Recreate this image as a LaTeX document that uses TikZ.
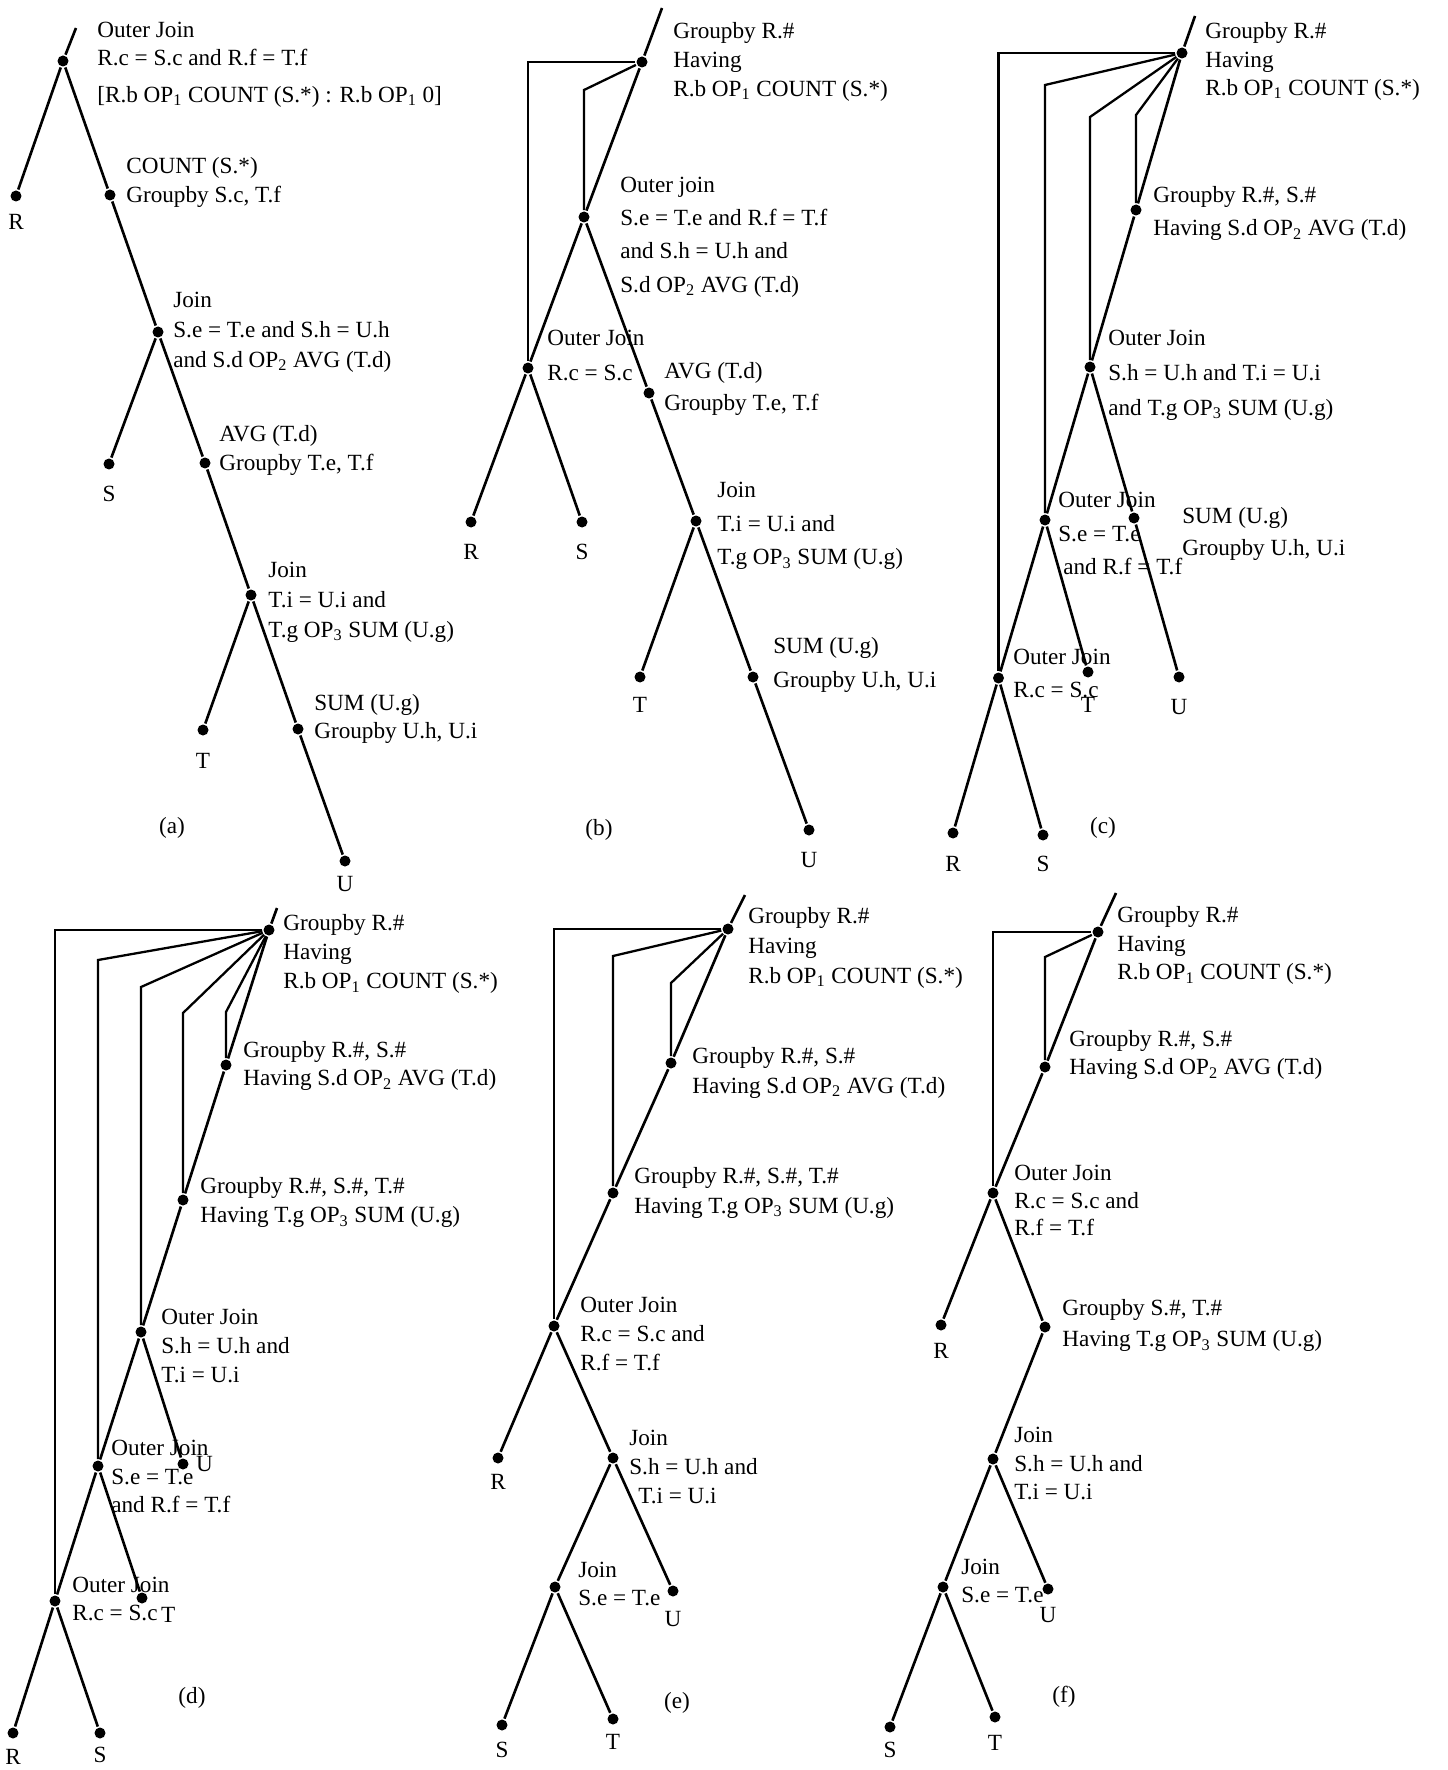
\documentclass[tikz,border=0pt]{standalone}
\usepackage{fontspec}
\setmainfont{Liberation Serif}
\usetikzlibrary{positioning}
\newcommand\condfont[1]{\fontsize{13.2}{#1}\selectfont}
\tikzset{
    joinplan/.style={x=0.02cm, y=-0.02cm, line width=1.5pt, font=\condfont{16pt}},
    opdot/.style={fill, circle, inner sep=0pt, minimum size=0.22cm},
    rel/.style={inner sep=0pt},
    % text beside an operator, the value is the line spacing
    cond/.style={align=left, anchor=west, inner sep=0pt, font=\condfont{#1}},
    cond/.default=17pt,
    link/.style={line width=1.3pt},
    panelname/.style={inner sep=0pt},
}

\begin{document}
\begin{tikzpicture}[joinplan]
    \useasboundingbox (0,0) rectangle (1447,1770);

    % (a) plain join tree
    \coordinate (atop) at (76,28);
    \node[opdot] (aroot) at (63,61)   {};
    \node[opdot] (acnt)  at (110,195) {};
    \node[opdot] (aj1)   at (158,332) {};
    \node[opdot] (aavg)  at (205,463) {};
    \node[opdot] (aj2)   at (251,595) {};
    \node[opdot] (asum)  at (298,729) {};
    \node[opdot] (aR)    at (16,196)  {};
    \node[opdot] (aS)    at (109,464) {};
    \node[opdot] (aT)    at (203,730) {};
    \node[opdot] (aU)    at (345,861) {};
    \node[rel, below=0.2cm of aR] (aRl) {R};
    \node[rel, below=0.28cm of aS] (aSl) {S};
    \node[rel, below=0.3cm of aT] (aTl) {T};
    \node[rel, below=0.14cm of aU] (aUl) {U};

    \draw (atop) -- (aroot) -- (acnt) -- (aj1) -- (aavg) -- (aj2) -- (asum) -- (aU);
    \draw (aroot) -- (aR);
    \draw (aj1) -- (aS);
    \draw (aj2) -- (aT);

    \node[cond=16pt] (ac1) at (96,64.5) {Outer Join\\R.c = S.c and R.f = T.f\\[5pt]{[}R.b OP\textsubscript{1} COUNT (S.*) : R.b OP\textsubscript{1} 0]};
    \node[cond=16pt] (ac2) at (125,182.5) {COUNT (S.*)\\Groupby S.c, T.f};
    \node[cond] (ac3) at (172,332) {Join\\S.e = T.e and S.h = U.h\\and S.d OP\textsubscript{2} AVG (T.d)};
    \node[cond=16pt] (ac4) at (218,450.5) {AVG (T.d)\\Groupby T.e, T.f};
    \node[cond] (ac5) at (267,602) {Join\\T.i = U.i and\\T.g OP\textsubscript{3} SUM (U.g)};
    \node[cond=16pt] (ac6) at (313,719) {SUM (U.g)\\Groupby U.h, U.i};
    \node[panelname] (acap) at (172,828) {(a)};

    % (b)
    \coordinate (btop) at (662,8);
    \node[opdot] (broot) at (642,62)  {};
    \node[opdot] (boj1)  at (584,217) {};
    \node[opdot] (boj2)  at (528,368) {};
    \node[opdot] (bavg)  at (649,393) {};
    \node[opdot] (bj)    at (696,521) {};
    \node[opdot] (bsum)  at (753,677) {};
    \node[opdot] (bR)    at (471,522) {};
    \node[opdot] (bS)    at (582,522) {};
    \node[opdot] (bT)    at (640,677) {};
    \node[opdot] (bU)    at (809,830) {};
    \node[rel, below=0.28cm of bR] (bRl) {R};
    \node[rel, below=0.28cm of bS] (bSl) {S};
    \node[rel, below=0.24cm of bT] (bTl) {T};
    \node[rel, below=0.28cm of bU] (bUl) {U};

    \draw (btop) -- (broot) -- (boj1) -- (boj2) -- (bR);
    \draw (boj2) -- (bS);
    \draw (boj1) -- (bavg) -- (bj) -- (bsum) -- (bU);
    \draw (bj) -- (bT);
    \draw[link] (broot) -| (boj2);
    \draw[link] (broot) -- (boj1 |- 0,90) -- (boj1);

    \node[cond=16.5pt] (bc1) at (672,61.5) {Groupby R.\#\\Having\\R.b OP\textsubscript{1} COUNT (S.*)};
    \node[cond=19pt] (bc2) at (619,237) {Outer join\\S.e = T.e and R.f = T.f\\and S.h = U.h and\\S.d OP\textsubscript{2} AVG (T.d)};
    \node[cond=20pt] (bc3) at (546,355.5) {Outer Join\\R.c = S.c};
    \node[cond=18pt] (bc4) at (663,389) {AVG (T.d)\\Groupby T.e, T.f};
    \node[cond=19pt] (bc5) at (716,526) {Join\\T.i = U.i and\\T.g OP\textsubscript{3} SUM (U.g)};
    \node[cond=19pt] (bc6) at (772,665) {SUM (U.g)\\Groupby U.h, U.i};
    \node[panelname] (bcap) at (599,830) {(b)};

    % (c)
    \coordinate (ctop) at (1195,16);
    \node[opdot] (croot) at (1182,53)    {};
    \node[opdot] (cgb)   at (1136,210)   {};
    \node[opdot] (coj1)  at (1090,367)   {};
    \node[opdot] (coj2)  at (1045,520)   {};
    \node[opdot] (coj3)  at (998.5,678)  {};
    \node[opdot] (csum)  at (1134,518)   {};
    \node[opdot] (cR)    at (953,833)    {};
    \node[opdot] (cS)    at (1043,835)   {};
    \node[opdot] (cT)    at (1088,672)   {};
    \node[opdot] (cU)    at (1179,677)   {};
    \node[rel, below=0.3cm of cR] (cRl) {R};
    \node[rel, below=0.26cm of cS] (cSl) {S};
    \node[rel, below=0.34cm of cT] (cTl) {T};
    \node[rel, below=0.28cm of cU] (cUl) {U};

    \draw (ctop) -- (croot) -- (cgb) -- (coj1) -- (coj2) -- (coj3) -- (cR);
    \draw (coj3) -- (cS);
    \draw (coj2) -- (cT);
    \draw (coj1) -- (csum) -- (cU);
    \draw[link] (croot) -| (coj3);
    \draw[link] (croot) -- (coj2 |- 0,85) -- (coj2);
    \draw[link] (croot) -- (coj1 |- 0,117) -- (coj1);
    \draw[link] (croot) -- (cgb |- 0,115) -- (cgb);

    \node[cond=16.2pt] (cc1) at (1204,61.5) {Groupby R.\#\\Having\\R.b OP\textsubscript{1} COUNT (S.*)};
    \node[cond=18.8pt] (cc2) at (1152,213.5) {Groupby R.\#, S.\#\\Having S.d OP\textsubscript{2} AVG (T.d)};
    \node[cond=20pt] (cc3) at (1107,375) {Outer Join\\S.h = U.h and T.i = U.i\\and T.g OP\textsubscript{3} SUM (U.g)};
    \node[cond=19pt] (cc4) at (1057,533.5) {Outer Join\\S.e = T.e\\\hspace*{0.1cm}and R.f = T.f};
    \node[cond=18pt] (cc5) at (1181,534) {SUM (U.g)\\Groupby U.h, U.i};
    \node[cond=19pt] (cc6) at (1012,673.5) {Outer Join\\R.c = S.c};
    \node[panelname] (ccap) at (1103,828) {(c)};

    % (d)
    \coordinate (dtop) at (277,908);
    \node[opdot] (droot) at (269,930)  {};
    \node[opdot] (dgb1)  at (226,1065) {};
    \node[opdot] (dgb2)  at (183,1200) {};
    \node[opdot] (doj1)  at (141,1332) {};
    \node[opdot] (doj2)  at (98,1466)  {};
    \node[opdot] (doj3)  at (55,1601)  {};
    \node[opdot] (dR)    at (13,1733)  {};
    \node[opdot] (dS)    at (100,1733) {};
    \node[opdot] (dT)    at (142,1598) {};
    \node[opdot] (dU)    at (183,1464) {};
    \node[rel, below=0.16cm of dR] (dRl) {R};
    \node[rel, below=0.12cm of dS] (dSl) {S};
    \node[rel, below right=0.06cm and 0.26cm of dT] (dTl) {T};
    \node[rel, right=0.1cm of dU] (dUl) {U};

    \draw (dtop) -- (droot) -- (dgb1) -- (dgb2) -- (doj1) -- (doj2) -- (doj3) -- (dR);
    \draw (doj1) -- (dU);
    \draw (doj2) -- (dT);
    \draw (doj3) -- (dS);
    \draw[link] (droot) -| (doj3);
    \draw[link] (droot) -- (doj2 |- 0,960) -- (doj2);
    \draw[link] (droot) -- (doj1 |- 0,987) -- (doj1);
    \draw[link] (droot) -- (dgb2 |- 0,1013) -- (dgb2);
    \draw[link] (droot) -- (dgb1 |- 0,1012) -- (dgb1);

    \node[cond=16.5pt] (dc1) at (282,954) {Groupby R.\#\\Having\\R.b OP\textsubscript{1} COUNT (S.*)};
    \node[cond=16pt] (dc2) at (242,1066) {Groupby R.\#, S.\#\\Having S.d OP\textsubscript{2} AVG (T.d)};
    \node[cond=16.5pt] (dc3) at (199,1202.5) {Groupby R.\#, S.\#, T.\#\\Having T.g OP\textsubscript{3} SUM (U.g)};
    \node[cond=16.5pt] (dc4) at (160,1346) {Outer Join\\S.h = U.h and\\T.i = U.i};
    \node[cond=16.2pt] (dc5) at (110,1476.5) {Outer Join\\S.e = T.e\\and R.f = T.f};
    \node[cond=16pt] (dc6) at (71,1599) {Outer Join\\R.c = S.c};
    \node[panelname] (dcap) at (192,1698) {(d)};

    % (e)
    \coordinate (etop) at (745,895);
    \node[opdot] (eroot) at (728,929)  {};
    \node[opdot] (egb1)  at (671,1063) {};
    \node[opdot] (egb2)  at (613,1193) {};
    \node[opdot] (eoj)   at (554,1326) {};
    \node[opdot] (ej1)   at (613,1458) {};
    \node[opdot] (ej2)   at (555,1587) {};
    \node[opdot] (eR)    at (498,1458) {};
    \node[opdot] (eS)    at (502,1725) {};
    \node[opdot] (eT)    at (613,1719) {};
    \node[opdot] (eU)    at (673,1591) {};
    \node[rel, below=0.16cm of eR] (eRl) {R};
    \node[rel, below=0.18cm of eS] (eSl) {S};
    \node[rel, below=0.14cm of eT] (eTl) {T};
    \node[rel, below=0.24cm of eU] (eUl) {U};

    \draw (etop) -- (eroot) -- (egb1) -- (egb2) -- (eoj) -- (eR);
    \draw (eoj) -- (ej1) -- (eU);
    \draw (ej1) -- (ej2) -- (eS);
    \draw (ej2) -- (eT);
    \draw[link] (eroot) -| (eoj);
    \draw[link] (eroot) -- (egb2 |- 0,956) -- (egb2);
    \draw[link] (eroot) -- (egb1 |- 0,983) -- (egb1);

    \node[cond] (ec1) at (747,948) {Groupby R.\#\\Having\\R.b OP\textsubscript{1} COUNT (S.*)};
    \node[cond] (ec2) at (691,1073) {Groupby R.\#, S.\#\\Having S.d OP\textsubscript{2} AVG (T.d)};
    \node[cond] (ec3) at (633,1193) {Groupby R.\#, S.\#, T.\#\\Having T.g OP\textsubscript{3} SUM (U.g)};
    \node[cond=16.5pt] (ec4) at (579,1334) {Outer Join\\R.c = S.c and\\R.f = T.f};
    \node[cond=16.5pt] (ec5) at (628,1467) {Join\\S.h = U.h and\\\hspace*{0.18cm}T.i = U.i};
    \node[cond=16pt] (ec6) at (577,1584) {Join\\S.e = T.e};
    \node[panelname] (ecap) at (677,1703) {(e)};

    % (f)
    \coordinate (ftop) at (1116,893);
    \node[opdot] (froot) at (1098,932)  {};
    \node[opdot] (fgb1)  at (1045,1067) {};
    \node[opdot] (foj)   at (993,1193)  {};
    \node[opdot] (fgb2)  at (1045,1327) {};
    \node[opdot] (fj1)   at (993,1459)  {};
    \node[opdot] (fj2)   at (943,1587)  {};
    \node[opdot] (fR)    at (941,1325)  {};
    \node[opdot] (fS)    at (890,1727)  {};
    \node[opdot] (fT)    at (995,1717)  {};
    \node[opdot] (fU)    at (1048,1589) {};
    \node[rel, below=0.2cm of fR] (fRl) {R};
    \node[rel, below=0.14cm of fS] (fSl) {S};
    \node[rel, below=0.2cm of fT] (fTl) {T};
    \node[rel, below=0.2cm of fU] (fUl) {U};

    \draw (ftop) -- (froot) -- (fgb1) -- (foj) -- (fR);
    \draw (foj) -- (fgb2) -- (fj1) -- (fj2) -- (fS);
    \draw (fj1) -- (fU);
    \draw (fj2) -- (fT);
    \draw[link] (froot) -| (foj);
    \draw[link] (froot) -- (fgb1 |- 0,957) -- (fgb1);

    \node[cond=16.2pt] (fc1) at (1116,945.5) {Groupby R.\#\\Having\\R.b OP\textsubscript{1} COUNT (S.*)};
    \node[cond=16pt] (fc2) at (1068,1055) {Groupby R.\#, S.\#\\Having S.d OP\textsubscript{2} AVG (T.d)};
    \node[cond=15.7pt] (fc3) at (1013,1200.5) {Outer Join\\R.c = S.c and\\R.f = T.f};
    \node[cond=17.6pt] (fc4) at (1061,1325.5) {Groupby S.\#, T.\#\\Having T.g OP\textsubscript{3} SUM (U.g)};
    \node[cond=16.2pt] (fc5) at (1013,1463.5) {Join\\S.h = U.h and\\T.i = U.i};
    \node[cond=16pt] (fc6) at (960,1581) {Join\\S.e = T.e};
    \node[panelname] (fcap) at (1064,1697) {(f)};
\end{tikzpicture}
\end{document}
